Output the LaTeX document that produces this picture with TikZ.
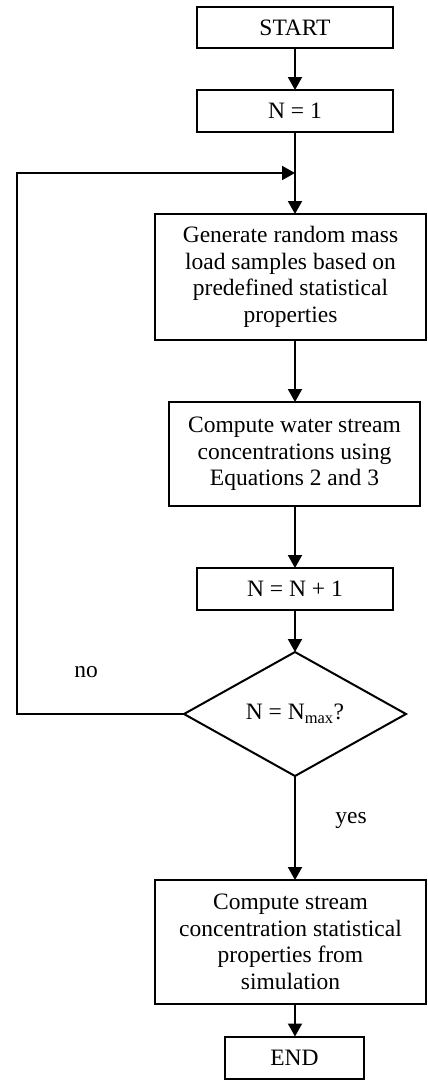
\documentclass[tikz,border=0pt]{standalone}
\usepackage{fontspec}
\setmainfont{Liberation Serif}
\usetikzlibrary{shapes.geometric,arrows.meta}

\begin{document}
\begin{tikzpicture}[x=1pt,y=-1pt,
  every node/.style={font=\fontsize{23.5}{26.5}\selectfont},
  procbox/.style={draw,line width=2pt,rectangle,inner sep=0pt,outer sep=0pt,align=center},
  decision/.style={draw,line width=2pt,diamond,inner sep=0pt,outer sep=0pt,aspect=1.79},
  flow/.style={line width=2pt,-{Triangle[length=13pt,width=14pt]}},
  plain/.style={line width=2pt}]

  \useasboundingbox (0,0) rectangle (428,1088);

  \node[procbox,minimum width=196pt,minimum height=41pt] (start) at (295,27.5) {START};
  \node[procbox,minimum width=196pt,minimum height=42pt] (init) at (295,111) {N = 1};
  \node[procbox,minimum width=271pt,minimum height=126pt] (gen) at (290.5,277)
    {Generate random mass\\load samples based on\\predefined statistical\\properties};
  \node[procbox,minimum width=251pt,minimum height=104pt] (conc) at (294.5,454)
    {Compute water stream\\concentrations using\\Equations 2 and 3};
  \node[procbox,minimum width=196pt,minimum height=42pt] (incr) at (295,589) {N = N + 1};
  \node[decision,minimum width=222pt,minimum height=124pt] (test) at (295,714)
    {N = N\textsubscript{max}?};
  \node[procbox,minimum width=271pt,minimum height=124pt] (stats) at (290.5,942)
    {Compute stream\\concentration statistical\\properties from\\simulation};
  \node[procbox,minimum width=139pt,minimum height=42pt] (stop) at (294.5,1057.5) {END};

  \coordinate (join) at (295,173);
  \coordinate (corner) at (17,714);

  \draw[flow] (start.south) -- (start.south |- init.north);
  \draw[plain] (init.south) -- (join);
  \draw[flow] (join) -- (join |- gen.north);
  \draw[flow] (join |- gen.south) -- (join |- conc.north);
  \draw[flow] (join |- conc.south) -- (incr.north);
  \draw[flow] (incr.south) -- (test.north);
  \draw[flow] (test.south) -- (test.south |- stats.north);
  \draw[flow] (test.south |- stats.south) -- (stop.north -| test.south);
  \draw[flow] (test.west) -- (corner) |- (join);

  \node (nolabel) at (86,672) {no};
  \node (yeslabel) at (351,820) {yes};
\end{tikzpicture}
\end{document}
